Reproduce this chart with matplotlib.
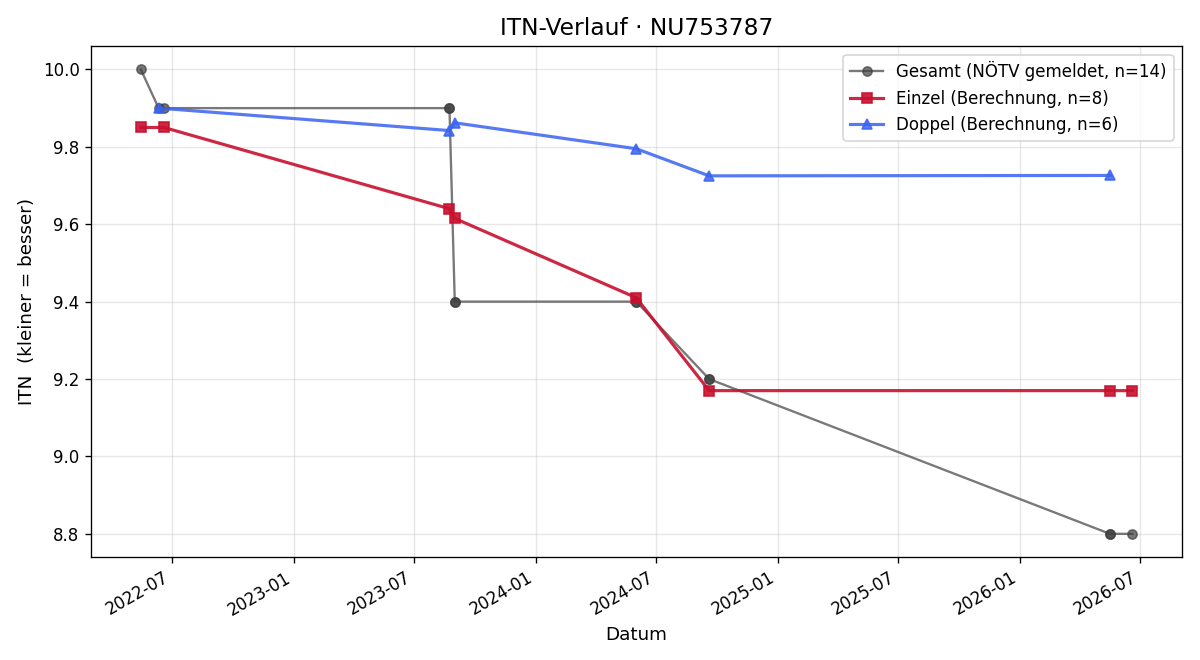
import matplotlib
matplotlib.use("Agg")
import matplotlib.pyplot as plt
import matplotlib.dates as mdates
import pandas as pd

# Gesamt (NÖTV gemeldet)
gesamt_dates = ["2022-05-15", "2022-06-11", "2022-06-19", "2023-08-24", "2023-08-24",
                "2023-09-01", "2023-09-01", "2024-06-01", "2024-06-01", "2024-09-19",
                "2024-09-19", "2026-05-17", "2026-05-17", "2026-06-20"]
gesamt_itn = [10.0, 9.9, 9.9, 9.9, 9.9, 9.4, 9.4, 9.4, 9.4, 9.2, 9.2, 8.8, 8.8, 8.8]

# Einzel (Berechnung)
einzel_dates = ["2022-05-15", "2022-06-19", "2023-08-24", "2023-09-01",
                "2024-06-01", "2024-09-19", "2026-05-17", "2026-06-20"]
einzel_itn = [9.85, 9.85, 9.64, 9.615, 9.41, 9.17, 9.17, 9.17]

# Doppel (Berechnung)
doppel_dates = ["2022-06-11", "2023-08-24", "2023-09-01", "2024-06-01",
                "2024-09-19", "2026-05-17"]
doppel_itn = [9.90, 9.842, 9.862, 9.795, 9.725, 9.726]

fig, ax = plt.subplots(figsize=(10, 5.5), dpi=120)

ax.plot(pd.to_datetime(gesamt_dates), gesamt_itn, color="0.25", alpha=0.7,
        marker="o", markersize=5.5, linewidth=1.4,
        label=f"Gesamt (NÖTV gemeldet, n={len(gesamt_itn)})")
ax.plot(pd.to_datetime(einzel_dates), einzel_itn, color="#c8102e", alpha=0.9,
        marker="s", markersize=6.5, linewidth=1.9,
        label=f"Einzel (Berechnung, n={len(einzel_itn)})")
ax.plot(pd.to_datetime(doppel_dates), doppel_itn, color="#3a63f2", alpha=0.85,
        marker="^", markersize=6.5, linewidth=1.9,
        label=f"Doppel (Berechnung, n={len(doppel_itn)})")

ax.set_title("ITN-Verlauf · NU753787", fontsize=14, pad=7)
ax.set_xlabel("Datum", fontsize=11)
ax.set_ylabel("ITN  (kleiner = besser)", fontsize=11)
ax.grid(True, alpha=0.3)
ax.xaxis.set_major_formatter(mdates.DateFormatter("%Y-%m"))
ax.legend(loc="upper right", fontsize=10)
fig.autofmt_xdate()

fig.subplots_adjust(left=0.076, right=0.985, top=0.930, bottom=0.156)
fig.savefig("out.png")
